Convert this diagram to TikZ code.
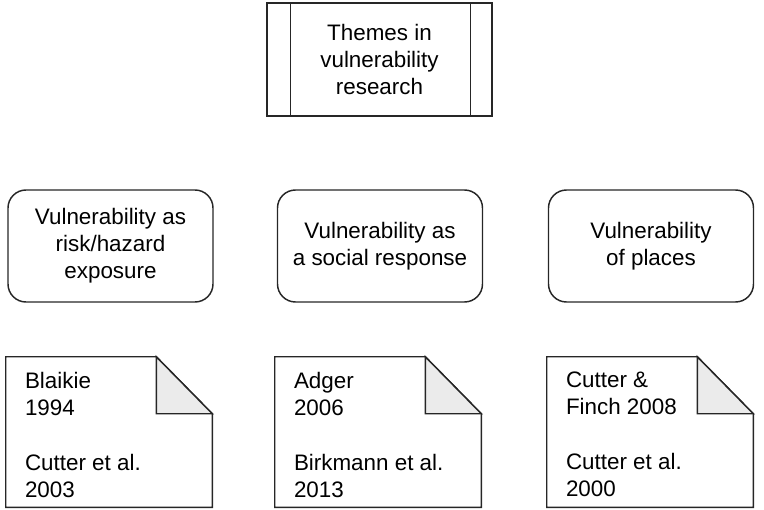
\documentclass[tikz,border=0pt]{standalone}
\usepackage{fontspec}
\setmainfont{Liberation Sans}
\begin{document}
\begin{tikzpicture}[x=0.75pt,y=-0.75pt,
  every node/.style={font=\fontsize{16.8pt}{20.3pt}\selectfont},
  frame/.style={draw=black!85, line width=1.1pt},
  themebox/.style={frame, rectangle, minimum width=225*0.75pt, minimum height=113*0.75pt, align=center, inner sep=0pt},
  roundbox/.style={frame, rectangle, rounded corners=13.5pt, minimum width=205*0.75pt, minimum height=112*0.75pt, align=center, inner sep=0pt},
  docbox/.style={rectangle, minimum width=206*0.75pt, minimum height=150*0.75pt, inner sep=0pt},
  doctext/.style={anchor=north west, align=left, inner sep=0pt},
  foldfill/.style={fill=black!8}
]
\useasboundingbox (0,0) rectangle (764,510);

% top
\node[themebox] (top) at (379.5,59.5) {Themes in\\vulnerability\\research};
\draw[frame] ([xshift=24*0.75pt]top.north west) -- ([xshift=24*0.75pt]top.south west);
\draw[frame] ([xshift=-22*0.75pt]top.north east) -- ([xshift=-22*0.75pt]top.south east);

% themes
\node[roundbox] (t1) at (110.5,246) {Vulnerability as\\risk/hazard\\exposure};
\node[roundbox] (t2) at (380,246) {Vulnerability as\\a social response};
\node[roundbox] (t3) at (651,246) {Vulnerability\\of places};

% documents
\foreach \n/\cx in {d1/109, d2/378, d3/650} {
  \node[docbox] (\n) at (\cx,432) {};
  \coordinate (\n f1) at ([xshift=-56*0.75pt]\n.north east);
  \coordinate (\n f2) at ([yshift=-57*0.75pt]\n.north east);
  \draw[frame] (\n.north west) -- (\n f1) -- (\n f2) -- (\n.south east) -- (\n.south west) -- cycle;
  \draw[frame, foldfill] (\n f1) -- (\n f1 |- \n f2) -- (\n f2) -- cycle;
}
\node[doctext] (l1) at ([shift={(19,15)}]d1.north west) {Blaikie\\1994\\[21pt]Cutter et al.\\2003};
\node[doctext] (l2) at ([shift={(19,15)}]d2.north west) {Adger\\2006\\[21pt]Birkmann et al.\\2013};
\node[doctext] (l3) at ([shift={(19,15)}]d3.north west) {Cutter \&\\Finch 2008\\[21pt]Cutter et al.\\2000};
\end{tikzpicture}
\end{document}
